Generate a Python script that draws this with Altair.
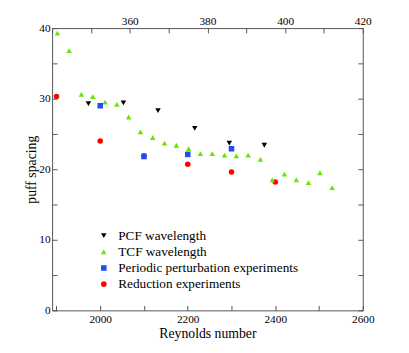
import altair as alt
import pandas as pd

series_names = ["PCF wavelength", "TCF wavelength",
                "Periodic perturbation experiments", "Reduction experiments"]

pcf_re = [1973, 2053, 2132, 2216, 2295, 2375]
pcf_sp = [29.3, 29.4, 28.3, 25.8, 23.7, 23.4]

tcf_re = [1902, 1929, 1957, 1983, 2011, 2038, 2065, 2092, 2120, 2147, 2174, 2202,
          2229, 2256, 2284, 2311, 2338, 2366, 2393, 2421, 2448, 2476, 2502, 2530]
tcf_sp = [39.3, 36.8, 30.6, 30.3, 29.5, 29.2, 27.4, 25.3, 24.5, 23.7, 23.4, 22.9,
          22.2, 22.2, 22.0, 21.9, 22.0, 21.4, 18.5, 19.3, 18.5, 18.1, 19.5, 17.4]

per_re = [2000, 2100, 2200, 2300]
per_sp = [29.0, 21.8, 22.1, 22.9]

red_re = [1900, 2000, 2100, 2200, 2300, 2400]
red_sp = [30.3, 24.0, 21.9, 20.7, 19.6, 18.2]

x_ticks = [1900, 2000, 2100, 2200, 2300, 2400, 2500, 2600]
top_ticks = [340, 350, 360, 370, 380, 390, 400, 410, 420]
y_ticks = [0, 5, 10, 15, 20, 25, 30, 35, 40]

colors = ["#000000", "#66e600", "#1f4ff0", "#ff0000"]
shapes = ["triangle-down", "triangle-up", "square", "circle"]
sizes = [32, 32, 40, 90]
draw_rank = {series_names[3]: 0, series_names[1]: 1, series_names[0]: 2, series_names[2]: 3}

rows = []
for name, xs, ys in [(series_names[3], red_re, red_sp),
                     (series_names[1], tcf_re, tcf_sp),
                     (series_names[0], pcf_re, pcf_sp),
                     (series_names[2], per_re, per_sp)]:
    for a, b in zip(xs, ys):
        rows.append((name, a, b, draw_rank[name]))
df = pd.DataFrame(rows, columns=["series", "re", "spacing", "rank"])

frame_df = pd.DataFrame({"tre": [340, 420], "ts": [0, 40]})

FONT = "Liberation Serif"
W, H = 317, 288

leg = alt.Legend(orient="none", legendX=46, legendY=205, title=None,
                 labelFont=FONT, labelFontSize=13.5, labelColor="black",
                 labelLimit=0, rowPadding=1.5, labelOffset=8, padding=0,
                 symbolStrokeWidth=0)

points = alt.Chart(df).mark_point(filled=True, opacity=1, strokeWidth=0).encode(
    x=alt.X("re:Q", scale=alt.Scale(domain=[1890, 2600], nice=False, zero=False),
            axis=alt.Axis(title="Reynolds number", values=x_ticks, format="d",
                          labelExpr="datum.value % 200 == 0 ? datum.label : ''",
                          offset=-5, tickSize=5, domain=False, grid=False,
                          labelPadding=3, titlePadding=2, labelFlush=False)),
    y=alt.Y("spacing:Q", scale=alt.Scale(domain=[0, 40], nice=False),
            axis=alt.Axis(title="puff spacing", values=y_ticks,
                          labelExpr="datum.value % 10 == 0 ? datum.label : ''",
                          offset=-5, tickSize=5, domain=False, grid=False,
                          labelPadding=2, titlePadding=0, labelFlush=False)),
    color=alt.Color("series:N", scale=alt.Scale(domain=series_names, range=colors), legend=leg),
    shape=alt.Shape("series:N", scale=alt.Scale(domain=series_names, range=shapes), legend=leg),
    size=alt.Size("series:N", scale=alt.Scale(domain=series_names, range=sizes), legend=leg),
    order=alt.Order("rank:Q", sort="ascending"),
)

frame = alt.Chart(frame_df).mark_point(opacity=0).encode(
    x=alt.X("tre:Q", scale=alt.Scale(domain=[340, 420], nice=False, zero=False),
            axis=alt.Axis(orient="top", title=None, values=top_ticks,
                          labelExpr="datum.value % 20 == 0 && datum.value > 340 ? datum.label : ''",
                          offset=-5, tickSize=5, domain=False, grid=False,
                          labelPadding=2, labelFlush=False)),
    y=alt.Y("ts:Q", scale=alt.Scale(domain=[0, 40], nice=False),
            axis=alt.Axis(orient="right", title=None, values=y_ticks, labels=False,
                          offset=-5, tickSize=5, domain=False, grid=False)),
)

chart = alt.layer(points, frame).resolve_scale(
    x="independent", y="independent"
).properties(
    width=W, height=H,
    autosize=alt.AutoSizeParams(type="none"),
    padding={"left": 45, "top": 17, "right": 39, "bottom": 40},
).configure_axis(
    labelFont=FONT, titleFont=FONT, labelFontSize=11.5, titleFontSize=14,
    titleFontWeight="normal", tickColor="#555555", labelColor="black",
    titleColor="black",
).configure_view(stroke="#555555", strokeWidth=1)

chart.save("out.html", embed_options={"renderer": "svg", "actions": False})
